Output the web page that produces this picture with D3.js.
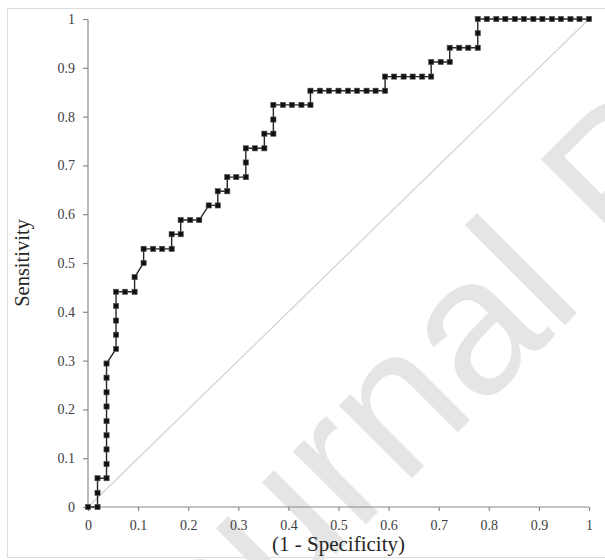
<!DOCTYPE html>
<html>
<head>
<meta charset="utf-8">
<script src="https://cdn.jsdelivr.net/npm/d3@7/dist/d3.min.js"></script>
<style>
  body { margin: 0; background: #ffffff; }
  svg { display: block; }
</style>
</head>
<body>
<svg id="rocSVG" width="605" height="560"></svg>
<script>
// ROC curve points (1 - specificity, sensitivity)
const fpr = [0, 0.019, 0.019, 0.019, 0.037, 0.037, 0.037, 0.037, 0.037, 0.037, 0.037, 0.037, 0.037,
  0.056, 0.056, 0.056, 0.056, 0.056, 0.074, 0.093, 0.093, 0.111, 0.111, 0.130, 0.148, 0.167, 0.167,
  0.185, 0.185, 0.204, 0.222, 0.241, 0.259, 0.259, 0.278, 0.278, 0.296, 0.315, 0.315, 0.315, 0.333,
  0.352, 0.352, 0.370, 0.370, 0.370, 0.389, 0.407, 0.426, 0.444, 0.444, 0.463, 0.481, 0.500, 0.519,
  0.537, 0.556, 0.574, 0.593, 0.593, 0.611, 0.630, 0.648, 0.667, 0.685, 0.685, 0.704, 0.722, 0.722,
  0.741, 0.759, 0.778, 0.778, 0.778, 0.796, 0.815, 0.833, 0.852, 0.870, 0.889, 0.907, 0.926, 0.944,
  0.963, 0.981, 1]
const tpr = [0, 0, 0.029, 0.059, 0.059, 0.088, 0.118, 0.147, 0.176, 0.206, 0.235, 0.265, 0.294,
  0.324, 0.353, 0.382, 0.412, 0.441, 0.441, 0.441, 0.471, 0.500, 0.529, 0.529, 0.529, 0.529, 0.559,
  0.559, 0.588, 0.588, 0.588, 0.618, 0.618, 0.647, 0.647, 0.676, 0.676, 0.676, 0.706, 0.735, 0.735,
  0.735, 0.765, 0.765, 0.794, 0.824, 0.824, 0.824, 0.824, 0.824, 0.853, 0.853, 0.853, 0.853, 0.853,
  0.853, 0.853, 0.853, 0.853, 0.882, 0.882, 0.882, 0.882, 0.882, 0.882, 0.912, 0.912, 0.912, 0.941,
  0.941, 0.941, 0.941, 0.971, 1, 1, 1, 1, 1, 1, 1, 1, 1, 1, 1, 1, 1]
const diagonal = [0, 1]
const xTicks = [0, 0.1, 0.2, 0.3, 0.4, 0.5, 0.6, 0.7, 0.8, 0.9, 1]
const yTicks = [0, 0.1, 0.2, 0.3, 0.4, 0.5, 0.6, 0.7, 0.8, 0.9, 1]
const tickLabels = ['0', '0.1', '0.2', '0.3', '0.4', '0.5', '0.6', '0.7', '0.8', '0.9', '1']
const xTitle = '(1 - Specificity)'
const yTitle = 'Sensitivity'
const watermark = 'Journal Pre-proof'

const svg = d3.select('#rocSVG')
const width = 605
const height = 560
const margin = { top: 19, right: 16, bottom: 53, left: 88 };
const innerWidth = width - margin.left - margin.right;
const innerHeight = height - margin.top - margin.bottom;
const serif = '"Liberation Serif", "Times New Roman", serif'

const rocData = fpr.map((d, i) => ({ x: d, y: tpr[i] }))

// light frame round the figure
svg.append('rect')
  .attr('x', 7.5)
  .attr('y', 8.5)
  .attr('width', 640)
  .attr('height', 549)
  .attr('fill', 'none')
  .attr('stroke', '#dedede')

// watermark (mostly runs off the page)
svg.append('text')
  .attr('transform', 'translate(134,756) rotate(-45)')
  .attr('font-family', '"Liberation Sans", Arial, sans-serif')
  .attr('font-size', 195)
  .attr('fill', '#e5e5e5')
  .text(watermark)

const xScale = d3.scaleLinear()
  .domain([0, 1])
  .range([0, innerWidth])
const yScale = d3.scaleLinear()
  .domain([0, 1])
  .range([innerHeight, 0])

const g = svg.append('g')
  .attr('transform', `translate(${margin.left},${margin.top})`);

// reference line
g.append('line')
  .attr('x1', xScale(diagonal[0]))
  .attr('y1', yScale(diagonal[0]))
  .attr('x2', xScale(diagonal[1]))
  .attr('y2', yScale(diagonal[1]))
  .attr('stroke', '#d4d4d4')
  .attr('stroke-width', 1.3)

const xAxisG = g.append('g')
  .attr('transform', `translate(0,${innerHeight})`)
  .call(d3.axisBottom(xScale).tickValues(xTicks).tickFormat((d, i) => tickLabels[i]).tickSize(4).tickPadding(9))

const yAxisG = g.append('g')
  .call(d3.axisLeft(yScale).tickValues(yTicks).tickFormat((d, i) => tickLabels[i]).tickSize(5).tickPadding(8))

xAxisG.selectAll('.domain, .tick line').attr('stroke', '#8a8a8a').attr('stroke-width', 1.2)
yAxisG.selectAll('.domain, .tick line').attr('stroke', '#8a8a8a').attr('stroke-width', 1.2)
xAxisG.select('.domain').attr('d', `M0.5,0H${innerWidth}`)
yAxisG.select('.domain').attr('d', `M0,${innerHeight}V0.5`)

g.selectAll('.tick text')
  .attr('font-family', serif)
  .attr('font-size', 14)
  .attr('fill', '#404040')

// curve
const line = d3.line()
  .x(d => xScale(d.x))
  .y(d => yScale(d.y))

g.append('path')
  .datum(rocData)
  .attr('d', line)
  .attr('fill', 'none')
  .attr('stroke', '#262626')
  .attr('stroke-width', 1.4)

g.selectAll('rect.pt').data(rocData)
  .enter().append('rect')
  .attr('class', 'pt')
  .attr('x', d => xScale(d.x) - 2.6)
  .attr('y', d => yScale(d.y) - 2.6)
  .attr('width', 5.2)
  .attr('height', 5.2)
  .attr('fill', '#111111')
  .attr('stroke', '#555555')
  .attr('stroke-width', 0.6)

// axis titles
svg.append('text')
  .attr('x', margin.left + innerWidth / 2)
  .attr('y', 551)
  .attr('text-anchor', 'middle')
  .attr('font-family', serif)
  .attr('font-size', 21)
  .attr('fill', '#262626')
  .text(xTitle)

svg.append('text')
  .attr('transform', `translate(29,${margin.top + innerHeight / 2}) rotate(-90)`)
  .attr('text-anchor', 'middle')
  .attr('font-family', serif)
  .attr('font-size', 20.5)
  .attr('fill', '#262626')
  .text(yTitle)
</script>
</body>
</html>
